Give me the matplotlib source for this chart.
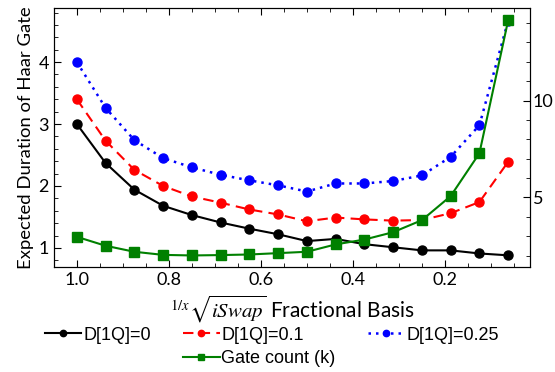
import matplotlib
matplotlib.use("Agg")
from matplotlib import pyplot as plt
from matplotlib.lines import Line2D
from matplotlib.ticker import MultipleLocator

# fractional basis 1/x for x = 1..16
fraction = [1.0, 0.9375, 0.875, 0.8125, 0.75, 0.6875, 0.625, 0.5625,
            0.5, 0.4375, 0.375, 0.3125, 0.25, 0.1875, 0.125, 0.0625]

dur_q0 = [3.00, 2.37, 1.94, 1.68, 1.53, 1.41, 1.31, 1.22,
          1.11, 1.145, 1.06, 1.01, 0.96, 0.96, 0.91, 0.88]
dur_q01 = [3.40, 2.73, 2.26, 2.00, 1.83, 1.73, 1.62, 1.54,
           1.43, 1.49, 1.46, 1.44, 1.45, 1.56, 1.74, 2.39]
dur_q025 = [4.00, 3.26, 2.74, 2.45, 2.30, 2.18, 2.09, 2.01,
            1.91, 2.04, 2.04, 2.08, 2.17, 2.47, 2.98, 4.67]
gate_count = [2.97, 2.51, 2.20, 2.04, 2.01, 2.03, 2.06, 2.13,
              2.20, 2.58, 2.83, 3.21, 3.83, 5.07, 7.28, 14.14]

plt.rcParams["mathtext.fontset"] = "stix"
plt.rcParams["font.family"] = ["Lato", "DejaVu Sans"]
plt.rcParams["xtick.direction"] = "in"
plt.rcParams["ytick.direction"] = "in"

fig = plt.figure(figsize=(5.55, 3.72), dpi=100)
ax = fig.add_axes([0.097, 0.282, 0.858, 0.696])
ax2 = ax.twinx()

ms = 6.5
l0, = ax.plot(fraction, dur_q0, color="black", linestyle="-", marker="o", markersize=ms, lw=1.5)
l1, = ax.plot(fraction, dur_q01, color="red", linestyle=(0, (5, 3)), marker="o", markersize=ms, lw=1.5)
l2, = ax.plot(fraction, dur_q025, color="blue", linestyle=(0, (1, 2)), marker="o", markersize=ms, lw=1.8)
lg, = ax2.plot(fraction, gate_count, color="green", linestyle="-", marker="s", markersize=ms, lw=1.5)

ax.set_xlim(1.05, 0.015)
ax.set_ylim(0.69, 4.87)
ax2.set_ylim(1.41, 14.76)

ax.xaxis.set_major_locator(MultipleLocator(0.2))
ax.xaxis.set_minor_locator(MultipleLocator(0.05))
ax.yaxis.set_major_locator(MultipleLocator(1))
ax.yaxis.set_minor_locator(MultipleLocator(0.2))
ax2.yaxis.set_major_locator(MultipleLocator(5))
ax2.yaxis.set_minor_locator(MultipleLocator(1))

ax.tick_params(which="both", top=True, labelsize=13)
ax.tick_params(which="major", length=5)
ax.tick_params(which="minor", length=3)
ax2.tick_params(which="major", length=5, labelsize=13, pad=2)
ax2.tick_params(which="minor", length=3)

ax.set_ylabel("Expected Duration of Haar Gate", fontsize=13.3, labelpad=3)
ax.set_xlabel(r"$^{1/x}\sqrt{iSwap}$ Fractional Basis", fontsize=15, labelpad=4)

blank = Line2D([], [], linestyle="none")
handles = [l0, blank, l1, lg, l2, blank]
labels = ["D[1Q]=0", "", "D[1Q]=0.1", "Gate count (k)", "D[1Q]=0.25", ""]
fig.legend(handles, labels, ncol=3, loc="lower center", bbox_to_anchor=(0.49, -0.03),
           frameon=False, handlelength=2.0, handletextpad=0.1, columnspacing=1.8,
           labelspacing=0.35, markerscale=0.7,
           prop={"family": "Liberation Sans", "size": 13})

fig.savefig("out.png", dpi=100)
